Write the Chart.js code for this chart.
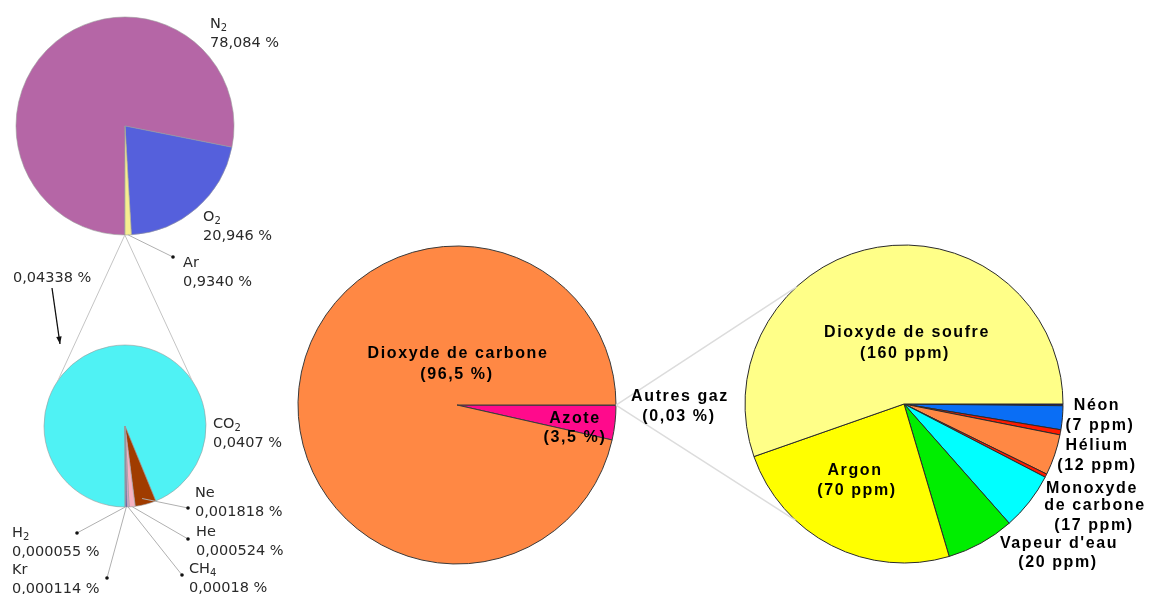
<!DOCTYPE html>
<html><head><meta charset="utf-8">
<script src="https://cdn.jsdelivr.net/npm/chart.js@4"></script>
<style>
html,body{margin:0;padding:0;background:#fff;width:1149px;height:594px;overflow:hidden;}
#stage{position:relative;width:1149px;height:594px;}
canvas{position:absolute;}
.lbl{position:absolute;font-family:"DejaVu Sans",sans-serif;font-size:14.5px;line-height:19px;color:#2a2a2a;white-space:nowrap;z-index:6;}
.lbl sub{font-size:10px;vertical-align:-3px;line-height:0;}
.bl{position:absolute;font-family:"Liberation Sans",Arial,sans-serif;font-weight:bold;font-size:16px;letter-spacing:1.6px;color:#000;white-space:nowrap;transform:translate(-50%,-50%);text-align:center;line-height:18px;z-index:6;}
</style></head><body><div id="stage">
<canvas id="cAir"></canvas>
<canvas id="cTrace"></canvas>
<canvas id="cVenus"></canvas>
<canvas id="cVenusTrace"></canvas>
<canvas id="ov" width="1149" height="594" style="left:0;top:0;z-index:5;width:1149px;height:594px"></canvas>

<div class="lbl" style="left:210px;top:14px">N<sub>2</sub><br>78,084 %</div>
<div class="lbl" style="left:203px;top:207px">O<sub>2</sub><br>20,946 %</div>
<div class="lbl" style="left:183px;top:253px">Ar<br>0,9340 %</div>
<div class="lbl" style="left:13px;top:268px">0,04338 %</div>
<div class="lbl" style="left:213px;top:414px">CO<sub>2</sub><br>0,0407 %</div>
<div class="lbl" style="left:195px;top:483px">Ne<br>0,001818 %</div>
<div class="lbl" style="left:196px;top:522px">He<br>0,000524 %</div>
<div class="lbl" style="left:189px;top:559px">CH<sub>4</sub><br>0,00018 %</div>
<div class="lbl" style="left:12px;top:523px">H<sub>2</sub><br>0,000055 %</div>
<div class="lbl" style="left:12px;top:560px">Kr<br>0,000114 %</div>

<div class="bl" style="left:458px;top:353px">Dioxyde de carbone</div>
<div class="bl" style="left:457px;top:374px">(96,5 %)</div>
<div class="bl" style="left:575px;top:418px">Azote</div>
<div class="bl" style="left:575px;top:437px">(3,5 %)</div>
<div class="bl" style="left:680px;top:396px">Autres gaz</div>
<div class="bl" style="left:679px;top:416px">(0,03 %)</div>

<div class="bl" style="left:907px;top:332px">Dioxyde de soufre</div>
<div class="bl" style="left:905px;top:353px">(160 ppm)</div>
<div class="bl" style="left:855px;top:470px">Argon</div>
<div class="bl" style="left:857px;top:490px">(70 ppm)</div>
<div class="bl" style="left:1097px;top:405px">Néon</div>
<div class="bl" style="left:1100px;top:425px">(7 ppm)</div>
<div class="bl" style="left:1097px;top:445px">Hélium</div>
<div class="bl" style="left:1097px;top:465px">(12 ppm)</div>
<div class="bl" style="left:1092px;top:488px">Monoxyde</div>
<div class="bl" style="left:1095px;top:505px">de carbone</div>
<div class="bl" style="left:1094px;top:525px">(17 ppm)</div>
<div class="bl" style="left:1059px;top:543px">Vapeur d'eau</div>
<div class="bl" style="left:1058px;top:562px">(20 ppm)</div>
</div>
<script>
// Earth air composition (%)
const airLabels = ['Autres gaz', 'N₂', 'O₂', 'Ar'];
const airValues = [0.04338, 78.084, 20.946, 0.934];
const airColors = ['#d8d8d8', '#b566a6', '#5560dc', '#f6ee90'];

// Earth trace gases (%)
const traceLabels = ['CO₂', 'Ne', 'He', 'CH₄', 'Kr', 'H₂'];
const traceValues = [0.0407, 0.001818, 0.000524, 0.00018, 0.000114, 0.000055];
const traceColors = ['#4ff2f4', '#a03c00', '#f6b3c3', '#d8a8d0', '#3a3ab0', '#6a6ad0'];

// Venus atmosphere (%)
const venusLabels = ['Autres gaz', 'Azote', 'Dioxyde de carbone'];
const venusValues = [0.03, 3.5, 96.5];
const venusColors = ['#1a8a1a', '#ff0a8c', '#ff8844'];

// Venus other gases (ppm)
const venusTraceLabels = ['Autres', 'Néon', 'Autres', 'Hélium', 'Autres', 'Monoxyde de carbone', "Vapeur d'eau", 'Argon', 'Dioxyde de soufre'];
const venusTraceValues = [0.5, 7, 1.5, 12, 1, 17, 20, 70, 160];
const venusTraceColors = ['#0000b0', '#0a6ef5', '#ff1a00', '#ff8844', '#ff1a00', '#00ffff', '#00ee00', '#ffff00', '#ffff88'];

function makePie(id, cx, cy, R, labels, values, colors, rotationDeg, borderColor, borderWidth) {
  const cv = document.getElementById(id);
  const size = 2 * R + 10;
  const left = cx - size / 2, top = cy - size / 2;
  cv.width = size; cv.height = size;
  cv.style.left = left + 'px'; cv.style.top = top + 'px';
  const chart = new Chart(cv, {
    type: 'pie',
    data: { labels: labels, datasets: [{ data: values, backgroundColor: colors, borderColor: borderColor, borderWidth: borderWidth }] },
    options: {
      responsive: false, animation: false, events: [],
      rotation: rotationDeg, radius: R,
      layout: { padding: 0 },
      plugins: { legend: { display: false }, tooltip: { enabled: false } }
    }
  });
  chart._ox = left; chart._oy = top;
  return chart;
}

const air = makePie('cAir', 125, 126, 109, airLabels, airValues, airColors, 180, '#9a9a9a', 0.6);
const trace = makePie('cTrace', 125, 426, 81, traceLabels, traceValues, traceColors, 180, '#9a9a9a', 0.6);
const venus = makePie('cVenus', 457, 405, 159, venusLabels, venusValues, venusColors, 90, '#3a3a3a', 1);
const venusTrace = makePie('cVenusTrace', 904, 404, 159, venusTraceLabels, venusTraceValues, venusTraceColors, 90, '#2a2a2a', 1);

function arcPoint(chart, i, frac, rf) {
  const a = chart.getDatasetMeta(0).data[i];
  const ang = a.startAngle + (a.endAngle - a.startAngle) * frac;
  const r = a.outerRadius * rf;
  return [chart._ox + a.x + r * Math.cos(ang), chart._oy + a.y + r * Math.sin(ang)];
}
function circlePoint(chart, degFromTop, rf) {
  const a = chart.getDatasetMeta(0).data[0];
  const ang = (degFromTop - 90) * Math.PI / 180;
  const r = a.outerRadius * rf;
  return [chart._ox + a.x + r * Math.cos(ang), chart._oy + a.y + r * Math.sin(ang)];
}

const ctx = document.getElementById('ov').getContext('2d');
function line(p, q, color, w) {
  ctx.beginPath(); ctx.moveTo(p[0], p[1]); ctx.lineTo(q[0], q[1]);
  ctx.strokeStyle = color; ctx.lineWidth = w; ctx.stroke();
}
function dot(p) {
  ctx.beginPath(); ctx.arc(p[0], p[1], 1.8, 0, Math.PI * 2); ctx.fillStyle = '#111'; ctx.fill();
}

// Zoom connectors: Earth "others" slice -> trace pie
const airOther = arcPoint(air, 0, 0.5, 1);
line(airOther, circlePoint(trace, -56, 1), '#c4c4c4', 1);
line(airOther, circlePoint(trace, 56, 1), '#c4c4c4', 1);

// Venus "Autres gaz" slice -> detail pie
const vOther = arcPoint(venus, 0, 0.5, 1);
line(vOther, circlePoint(venusTrace, 317.5, 1), '#dcdcdc', 1.5);
line(vOther, circlePoint(venusTrace, 223, 1), '#dcdcdc', 1.5);

// Leader lines and dots
const dArgon = [173, 257];
line(arcPoint(air, 3, 0.5, 1), dArgon, '#b0b0b0', 1); dot(dArgon);
const dNe = [188, 508], dHe = [188, 539], dCH4 = [182, 575], dKr = [107, 578], dH2 = [77, 533];
line(arcPoint(trace, 1, 0.6, 0.92), dNe, '#b0b0b0', 1); dot(dNe);
line(arcPoint(trace, 2, 0.5, 1), dHe, '#b0b0b0', 1); dot(dHe);
line(arcPoint(trace, 3, 0.5, 1), dCH4, '#b0b0b0', 1); dot(dCH4);
line(arcPoint(trace, 4, 0.5, 1), dKr, '#b0b0b0', 1); dot(dKr);
line(arcPoint(trace, 5, 0.5, 1), dH2, '#b0b0b0', 1); dot(dH2);

// Arrow from "0,04338 %" to trace pie
(function () {
  const p = [52, 288], q = [60, 344];
  line(p, q, '#111', 1.3);
  const ang = Math.atan2(q[1] - p[1], q[0] - p[0]);
  ctx.beginPath();
  ctx.moveTo(q[0], q[1]);
  ctx.lineTo(q[0] - 8 * Math.cos(ang - 0.35), q[1] - 8 * Math.sin(ang - 0.35));
  ctx.lineTo(q[0] - 8 * Math.cos(ang + 0.35), q[1] - 8 * Math.sin(ang + 0.35));
  ctx.closePath(); ctx.fillStyle = '#111'; ctx.fill();
})();
</script>
</body></html>
